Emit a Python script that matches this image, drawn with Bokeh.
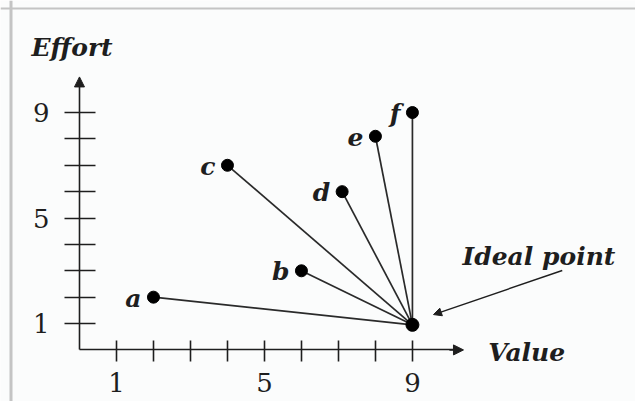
from bokeh.plotting import figure
from bokeh.models import (LinearAxis, FixedTicker, Arrow, NormalHead, Label,
                          Span, ColumnDataSource, Range1d)
from bokeh.embed import file_html
from bokeh.resources import INLINE
from bokeh.core.properties import value

# ---- data ----
names = ["a", "b", "c", "d", "e", "f"]
value_scores = [2, 6, 4, 7.1, 8, 9]
effort_scores = [2, 3, 7, 6, 8.1, 9]
ideal_value = 9
ideal_effort = 0.95
tick_values = [1, 2, 3, 4, 5, 6, 7, 8, 9]
tick_labels = {1: "1", 5: "5", 9: "9"}
x_title = "Value"
y_title = "Effort"
ideal_title = "Ideal point"

FONT = "DejaVu Serif"
INK = "#1e1e1e"
BG = "#fbfcfc"
W, H = 635, 401

p = figure(width=W, height=H, output_backend="svg", toolbar_location=None,
           x_range=Range1d(-2.135, 15.03), y_range=Range1d(-1.956, 13.248),
           x_axis_location=None, y_axis_location=None, min_border=0,
           background_fill_color=BG, border_fill_color=BG,
           outline_line_color=None)
p.grid.visible = False

overrides = {t: tick_labels.get(t, "") for t in tick_values}

common = dict(ticker=FixedTicker(ticks=tick_values), bounds=(0, 10.2),
              major_label_overrides=overrides, minor_tick_line_color=None,
              axis_line_color=INK, axis_line_width=1.6,
              major_tick_line_color=INK, major_tick_line_width=1.6,
              major_label_text_font=FONT, major_label_text_font_size="26px",
              major_label_text_color=INK)
xaxis = LinearAxis(fixed_location=0, major_tick_in=9, major_tick_out=12,
                   major_label_standoff=11, **common)
yaxis = LinearAxis(fixed_location=0, major_tick_in=16, major_tick_out=15,
                   major_label_standoff=15, major_label_orientation="horizontal",
                   **common)
p.add_layout(xaxis, "below")
p.add_layout(yaxis, "left")

# axis arrow heads
p.add_layout(Arrow(end=NormalHead(size=10, fill_color=INK, line_color=INK),
                   x_start=10.0, y_start=0, x_end=10.38, y_end=0,
                   line_color=INK, line_width=1.6))
p.add_layout(Arrow(end=NormalHead(size=10, fill_color=INK, line_color=INK),
                   x_start=0, y_start=10.0, x_end=0, y_end=10.35,
                   line_color=INK, line_width=1.6))

src = ColumnDataSource(dict(name=names, v=value_scores, e=effort_scores,
                            iv=[ideal_value] * len(names),
                            ie=[ideal_effort] * len(names)))

p.segment(x0="v", y0="e", x1="iv", y1="ie", source=src,
          line_color="#2a2a2a", line_width=1.7)
p.scatter(x="v", y="e", source=src, size=12, color="black")
p.scatter(x=[ideal_value], y=[ideal_effort], size=13, color="black")
p.text(x="v", y="e", text="name", source=src, x_offset=-12, y_offset=1,
       text_align="right", text_baseline="middle",
       text_font=value(FONT), text_font_style="bold italic",
       text_font_size="25px", text_color=INK)

lbl_kw = dict(text_font=FONT, text_font_style="bold italic",
              text_font_size="25px", text_color=INK,
              text_baseline="alphabetic", text_align="center")
p.add_layout(Label(x=-0.20, y=11.48, text=y_title, **lbl_kw))
p.add_layout(Label(x=12.09, y=-0.08, text=x_title, **lbl_kw))
p.add_layout(Label(x=12.42, y=3.55, text=ideal_title, **lbl_kw))

p.add_layout(Arrow(end=NormalHead(size=8, fill_color=INK, line_color=INK),
                   x_start=13.05, y_start=3.01, x_end=ideal_value + 0.57,
                   y_end=ideal_effort + 0.39, line_color=INK, line_width=1.4))

# frame edges at top and left of the scanned figure
p.add_layout(Span(location=H - 8, dimension="width", location_units="screen",
                  line_color="#c4c4c4", line_width=2))
p.add_layout(Span(location=10.5, dimension="height", location_units="screen",
                  line_color="#c4c4c4", line_width=3))

open("out.html", "w").write(file_html(p, INLINE))
